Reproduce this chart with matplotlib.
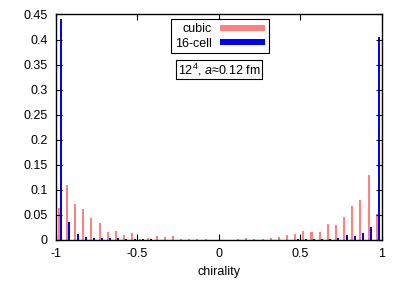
import matplotlib
matplotlib.use("Agg")
import matplotlib.pyplot as plt
import numpy as np

plt.rcParams['font.family'] = ['Liberation Sans', 'DejaVu Sans']
plt.rcParams['mathtext.fontset'] = 'custom'
plt.rcParams['mathtext.rm'] = 'Liberation Sans'
plt.rcParams['mathtext.it'] = 'Liberation Sans:italic'

# histogram of chirality, 40 bins on [-1, 1]
bin_edges = np.linspace(-1, 1, 41)
cubic = [0.063, 0.109, 0.072, 0.062, 0.043, 0.033, 0.015, 0.018, 0.009, 0.014,
         0.002, 0.003, 0.007, 0.006, 0.007, 0.002, 0.002, 0.002, 0.002, 0.0,
         0.0, 0.0, 0.001, 0.004, 0.001, 0.002, 0.003, 0.006, 0.009, 0.011,
         0.017, 0.015, 0.016, 0.031, 0.029, 0.046, 0.068, 0.079, 0.130, 0.052]
cell16 = [0.441, 0.035, 0.012, 0.006, 0.004, 0.004, 0.004, 0.004, 0.001, 0.001,
          0.001, 0.001, 0.0, 0.0, 0.0, 0.0, 0.0, 0.0, 0.0, 0.0,
          0.0, 0.0, 0.0, 0.0, 0.0, 0.0, 0.0, 0.0, 0.0, 0.001,
          0.002, 0.002, 0.001, 0.002, 0.003, 0.009, 0.007, 0.013, 0.026, 0.405]
labels = ['cubic', '16-cell']
colors = ['#ff8080', '#0000ff']
xticks = [-1, -0.5, 0, 0.5, 1]
yticks = [0, 0.05, 0.1, 0.15, 0.2, 0.25, 0.3, 0.35, 0.4, 0.45]

centers = 0.5 * (bin_edges[:-1] + bin_edges[1:])

fig = plt.figure(figsize=(4.05, 2.84), dpi=100)
ax = fig.add_axes([0.138, 0.155, 0.805, 0.794])

w = 0.0125
ax.bar(centers - 0.007, cubic, width=w, color=colors[0], label=labels[0], linewidth=0)
ax.bar(centers + 0.008, cell16, width=w, color=colors[1], label=labels[1], linewidth=0)

ax.set_xlim(-1, 1)
ax.set_ylim(0, 0.45)
ax.set_xticks(xticks)
ax.set_xticklabels(['-1', '-0.5', '0', '0.5', '1'])
ax.set_yticks(yticks)
ax.set_yticklabels(['0', '0.05', '0.1', '0.15', '0.2', '0.25', '0.3', '0.35', '0.4', '0.45'])
ax.tick_params(direction='in', length=4, width=0.8, labelsize=9, pad=6,
               top=True, right=True)
for s in ax.spines.values():
    s.set_linewidth(1.0)
ax.set_xlabel('chirality', fontsize=9, labelpad=4)

leg = ax.legend(loc='upper center', bbox_to_anchor=(0.503, 0.978), fontsize=9,
                markerfirst=False, fancybox=False, framealpha=1, edgecolor='black',
                handlelength=3.6, handleheight=0.35, handletextpad=0.7,
                borderpad=0.3, labelspacing=0.2, borderaxespad=0)
leg.get_frame().set_linewidth(0.8)
# right-align the labels like gnuplot does
for col in leg._legend_handle_box.get_children():
    col.align = 'right'

ax.text(0.5, 0.755, r'12$^4$, $a$≈0.12 fm', transform=ax.transAxes,
        ha='center', va='center', fontsize=9,
        bbox=dict(boxstyle='square,pad=0.12', fc='white', ec='black', lw=0.8))

fig.savefig('out.png', dpi=100)
